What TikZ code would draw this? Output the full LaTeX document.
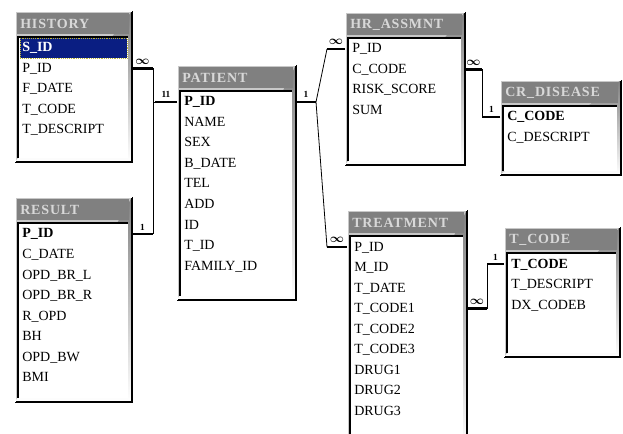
\documentclass[tikz,border=0pt]{standalone}
\usepackage{amsmath}
\usepackage{fontspec}
\setmainfont{Liberation Serif}
\newfontfamily\titlefont[LetterSpace=6]{Liberation Serif}
\usetikzlibrary{positioning}
\definecolor{frame}{HTML}{C8C8C8}
\definecolor{titlebar}{HTML}{808080}
\definecolor{titletext}{HTML}{D8D8D8}
\definecolor{shade}{HTML}{505050}
\definecolor{selected}{HTML}{0A1E82}

% one table of the relationship window: name, left, top, right, bottom, title, rows
\newcommand{\tablebox}[7]{%
  \node[tableframe, minimum width={(#4-#2)*0.75pt}, minimum height={(#5-#3)*0.75pt}]
    (#1) at ({(#2+#4)/2},{(#3+#5)/2}) {};
  \draw[shade, line width=1.5pt] (#2,#5) -- (#4,#5) -- (#4,#3);
  \draw[white, line width=1pt] (#2,#5) -- (#2,#3) -- (#4,#3);
  \fill[titlebar] (#2+2,#3+2) rectangle (#4-3,#3+23);
  \node[tabletitle] (#1-title) at (#2+5,#3+12.5) {#6};
  \fill[white] (#2+3,#3+26) rectangle (#4-4,#5-4);
  \draw[black, line width=1pt] (#2+3,#5-4) -- (#2+3,#3+26) -- (#4-4,#3+26);
  \foreach \f/\s [count=\i] in {#7}
    \node[\s] (#1-\i) at (#2+5,#3+37+20.5*\i-20.5) {\f};
}

\begin{document}
\begin{tikzpicture}[x=0.75pt, y=-0.75pt,
  tableframe/.style={fill=frame, inner sep=0pt, outer sep=0pt},
  tabletitle/.style={anchor=west, inner sep=0pt, text=titletext,
    font=\titlefont\bfseries\fontsize{10.5}{12}\selectfont},
  field/.style={anchor=west, inner xsep=1.5pt, text height=8pt, text depth=2pt,
    font=\fontsize{10.5}{12}\selectfont},
  keyrow/.style={field, font=\bfseries\fontsize{10.5}{12}\selectfont},
  selrow/.style={keyrow, fill=selected, text=white, draw=yellow!70!black,
    densely dotted, inner ysep=2.5pt, text width=77pt},
  stub/.style={line width=2pt},
  rel/.style={line width=0.6pt},
  card/.style={above=1pt, inner sep=1pt, font=\bfseries\fontsize{7}{7}\selectfont},
  manycard/.style={card, font=\fontsize{9}{9}\selectfont}]
  \useasboundingbox (0,0) rectangle (623,434);

  % tables
  \tablebox{history}{15}{11}{132}{162}{HISTORY}
    {S\_ID/selrow, P\_ID/field, F\_DATE/field, T\_CODE/field, T\_DESCRIPT/field}
  \tablebox{result}{15}{197}{132}{402}{RESULT}
    {P\_ID/keyrow, C\_DATE/field, OPD\_BR\_L/field, OPD\_BR\_R/field,
     R\_OPD/field, BH/field, OPD\_BW/field, BMI/field}
  \tablebox{patient}{177}{65}{296}{300}{PATIENT}
    {P\_ID/keyrow, NAME/field, SEX/field, B\_DATE/field, TEL/field,
     ADD/field, ID/field, T\_ID/field, FAMILY\_ID/field}
  \tablebox{hr}{345}{12}{465}{165}{HR\_ASSMNT}
    {P\_ID/field, C\_CODE/field, RISK\_SCORE/field, SUM/field}
  \tablebox{crd}{500}{80}{621}{175}{CR\_DISEASE}
    {C\_CODE/keyrow, C\_DESCRIPT/field}
  \tablebox{trt}{347}{210}{467}{446}{TREATMENT}
    {P\_ID/field, M\_ID/field, T\_DATE/field, T\_CODE1/field, T\_CODE2/field,
     T\_CODE3/field, DRUG1/field, DRUG2/field, DRUG3/field}
  \tablebox{tcode}{504}{227}{620}{357}{T\_CODE}
    {T\_CODE/keyrow, T\_DESCRIPT/field, DX\_CODEB/field}

  % HISTORY and RESULT to PATIENT
  \draw[stub] (history.east |- history-2) -- ++(21,0)
    node[manycard, midway] (card-hist) {$\boldsymbol{\infty}$} coordinate (hist-bend);
  \draw[stub] (patient.west |- patient-1) -- ++(-22,0)
    node[card, midway] (card-pat-l) {11} coordinate (pat-bend);
  \draw[stub] (result.east |- result-1) -- ++(21,0)
    node[card, midway] (card-res) {1} coordinate (res-bend);
  \draw[rel] (hist-bend) -- (hist-bend |- pat-bend) -- (pat-bend);
  \draw[rel] (res-bend) -- (res-bend |- pat-bend);

  % PATIENT to HR_ASSMNT and TREATMENT
  \draw[stub] (patient.east |- patient-1) -- ++(20,0)
    node[card, midway] (card-pat-r) {1} coordinate (pat-out);
  \draw[stub] (hr.west |- hr-1) -- ++(-18,0)
    node[manycard, midway] (card-hr-l) {$\boldsymbol{\infty}$} coordinate (hr-in);
  \draw[stub] (trt.west |- trt-1) -- ++(-20,0)
    node[manycard, midway] (card-trt-l) {$\boldsymbol{\infty}$} coordinate (trt-in);
  \draw[rel] (hr-in) -- (pat-out) -- (trt-in);

  % HR_ASSMNT to CR_DISEASE
  \draw[stub] (hr.east |- hr-2) -- ++(17,0)
    node[manycard, midway] (card-hr-r) {$\boldsymbol{\infty}$} coordinate (hr-out);
  \draw[stub] (crd.west |- crd-1) -- ++(-17,0)
    node[card, midway] (card-crd) {1} coordinate (crd-in);
  \draw[rel] (hr-out) -- (hr-out |- crd-in) -- (crd-in);

  % TREATMENT to T_CODE
  \draw[stub] (trt.east |- trt-4) -- ++(20,0)
    node[manycard, midway] (card-trt-r) {$\boldsymbol{\infty}$} coordinate (trt-out);
  \draw[stub] (tcode.west |- tcode-1) -- ++(-17,0)
    node[card, midway] (card-tcode) {1} coordinate (tcode-in);
  \draw[rel] (trt-out) -- (trt-out |- tcode-in) -- (tcode-in);
\end{tikzpicture}
\end{document}
